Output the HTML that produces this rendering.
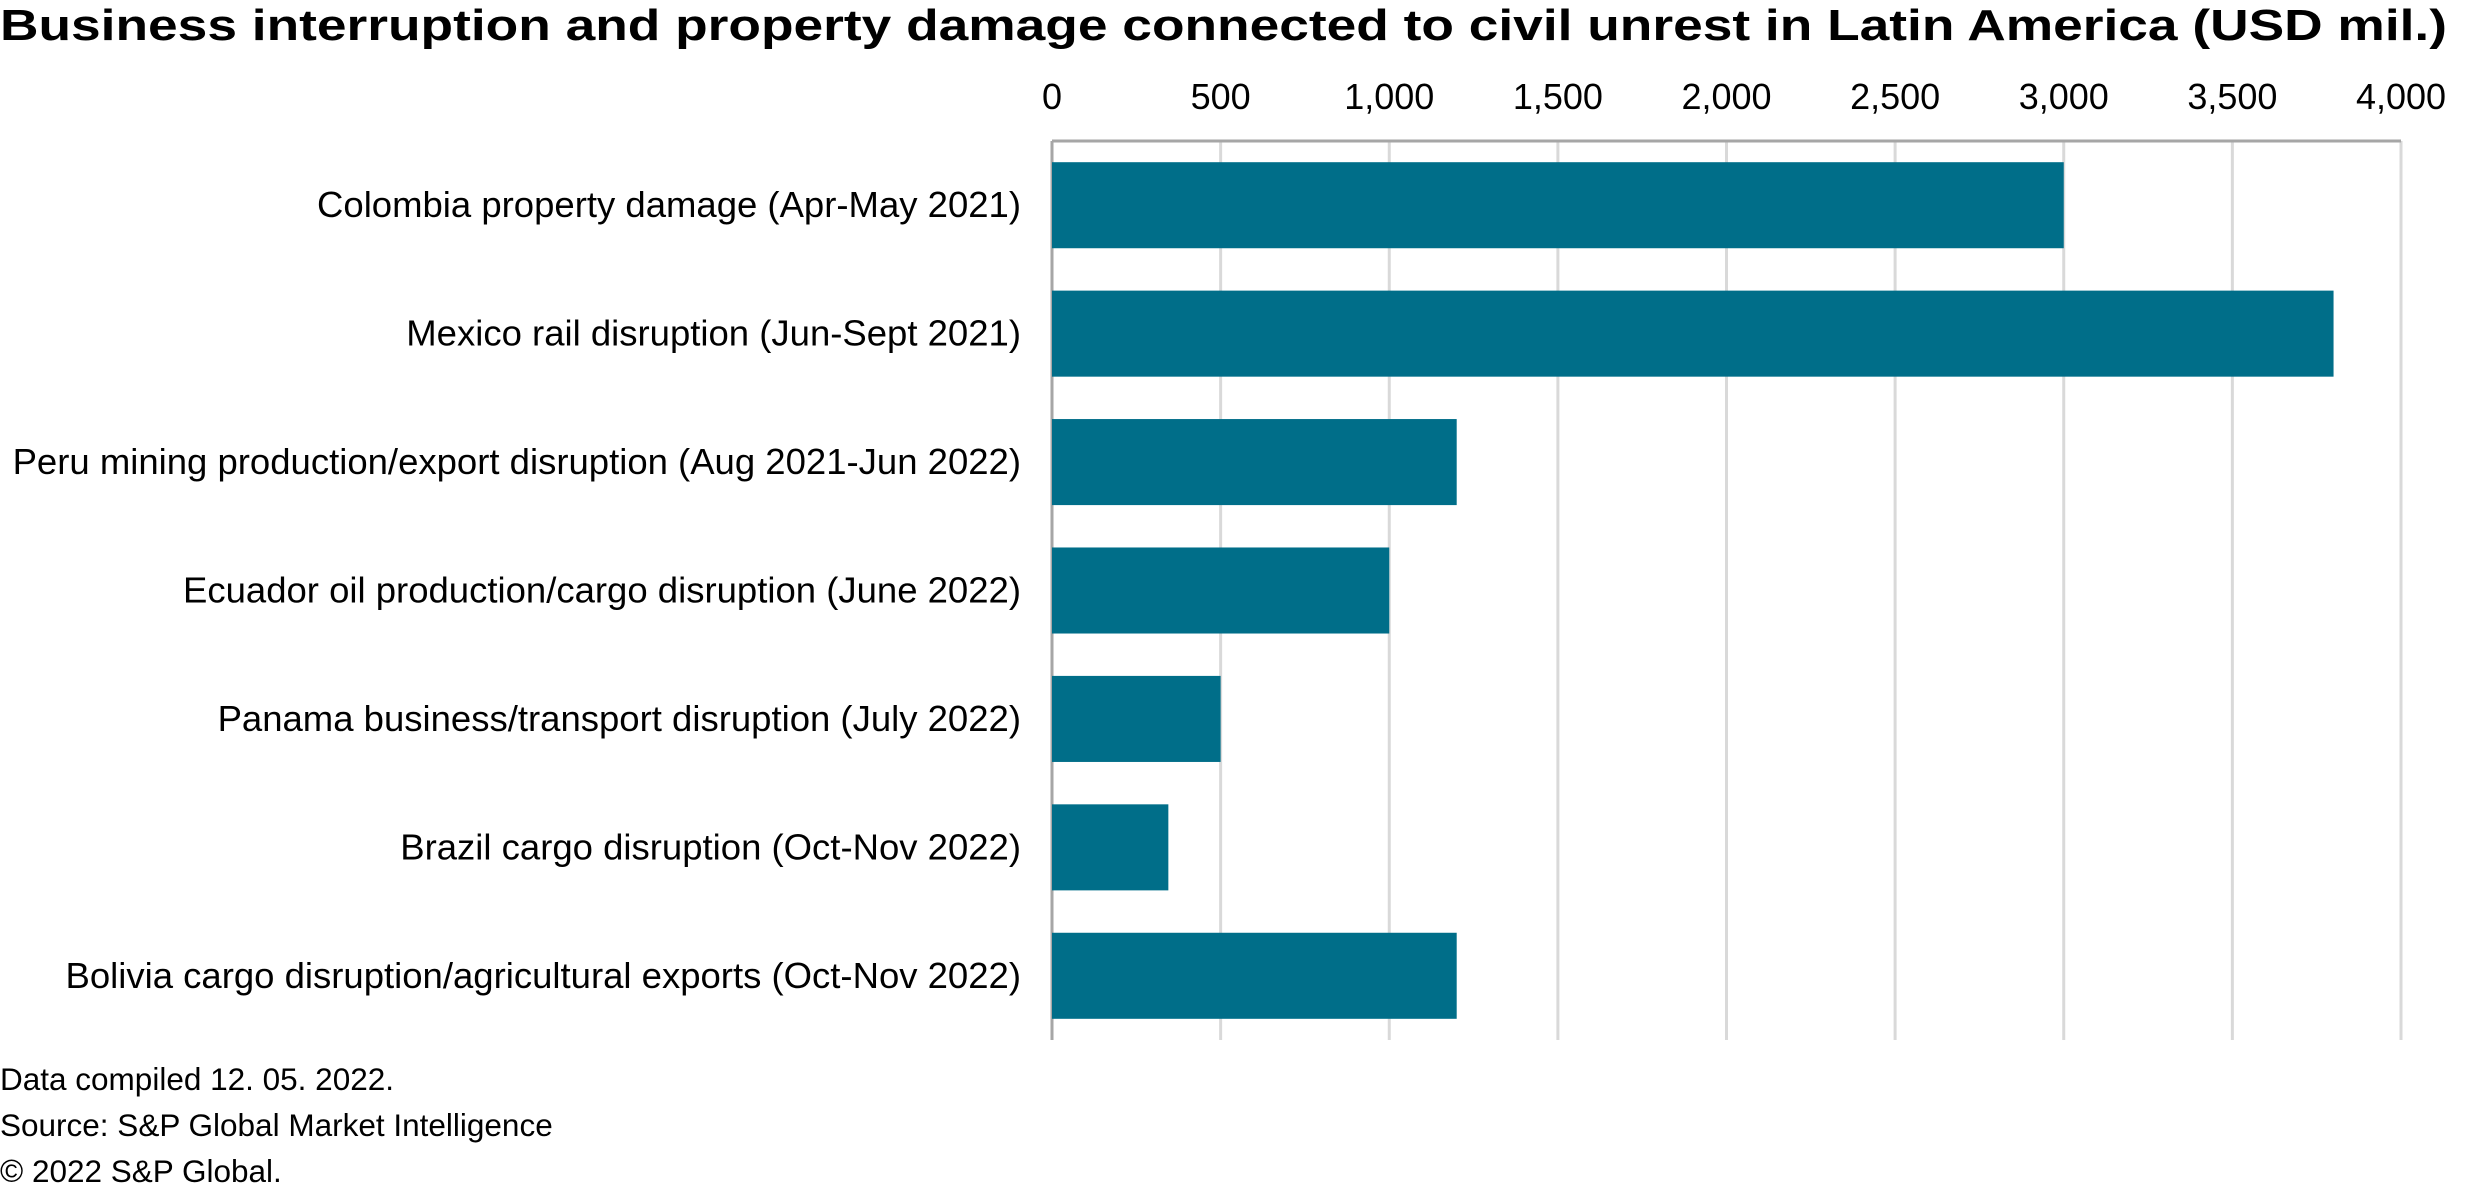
<!DOCTYPE html>
<html><head><meta charset="utf-8"><style>
html,body{margin:0;padding:0;background:#fff;}
svg{display:block;font-family:"Liberation Sans",Arial,sans-serif;}
</style></head><body>
<svg id="chart" width="2476" height="1189" viewBox="0 0 2476 1189">
<text x="0" y="40" font-size="44" font-weight="bold" fill="#000" textLength="2447" lengthAdjust="spacingAndGlyphs">Business interruption and property damage connected to civil unrest in Latin America (USD mil.)</text>
<g id="grid"></g><g id="bars"></g><g id="ticks"></g><g id="cats"></g>
<text x="0" y="1090" font-size="31.5">Data compiled 12. 05. 2022.</text>
<text x="0" y="1136" font-size="31.5">Source: S&amp;P Global Market Intelligence</text>
<text x="0" y="1182" font-size="31.5">© 2022 S&amp;P Global.</text>
</svg>
<script>
const categories = ["Colombia property damage (Apr-May 2021)","Mexico rail disruption (Jun-Sept 2021)","Peru mining production/export disruption (Aug 2021-Jun 2022)","Ecuador oil production/cargo disruption (June 2022)","Panama business/transport disruption (July 2022)","Brazil cargo disruption (Oct-Nov 2022)","Bolivia cargo disruption/agricultural exports (Oct-Nov 2022)"];
const values = [3000,3800,1200,1000,500,345,1200];
const ticks = [0,500,1000,1500,2000,2500,3000,3500,4000];
const tickLabels = ["0","500","1,000","1,500","2,000","2,500","3,000","3,500","4,000"];

(function(){
const NS="http://www.w3.org/2000/svg";
const x0=1052,x1=2401,plotTop=141,plotBottom=1040,maxV=4000;
const xs=v=>x0+(v/maxV)*(x1-x0);
const band=(plotBottom-plotTop)/categories.length;
const ys=i=>plotTop+band*i;
function mk(tag,attrs,parent){const e=document.createElementNS(NS,tag);for(const k in attrs)e.setAttribute(k,attrs[k]);document.getElementById(parent).appendChild(e);return e;}
ticks.forEach((t,i)=>{
  const g=mk('line',{x1:xs(t),x2:xs(t),y1:plotTop,y2:plotBottom,stroke:t===0?'#a6a6a6':'#d9d9d9','stroke-width':3},'grid');
  
  
  const l=mk('text',{x:xs(t),y:109,'font-size':36,'text-anchor':'middle'},'ticks');
  l.textContent=tickLabels[i];
  
  
});
const ax=mk('line',{x1:x0,x2:x1,y1:plotTop,y2:plotTop,stroke:'#a6a6a6','stroke-width':3},'grid');


const bh=band*0.67;
categories.forEach((c,i)=>{
  const yc=ys(i)+band/2;
  const r=mk('rect',{x:x0,y:yc-bh/2,width:xs(values[i])-x0,height:bh,fill:'#006e89'},'bars');
  
  
  const t=mk('text',{x:1021,y:yc+12,'font-size':36.5,'text-anchor':'end'},'cats');
  t.textContent=c;
  
  
});
})();
</script>
</body></html>
